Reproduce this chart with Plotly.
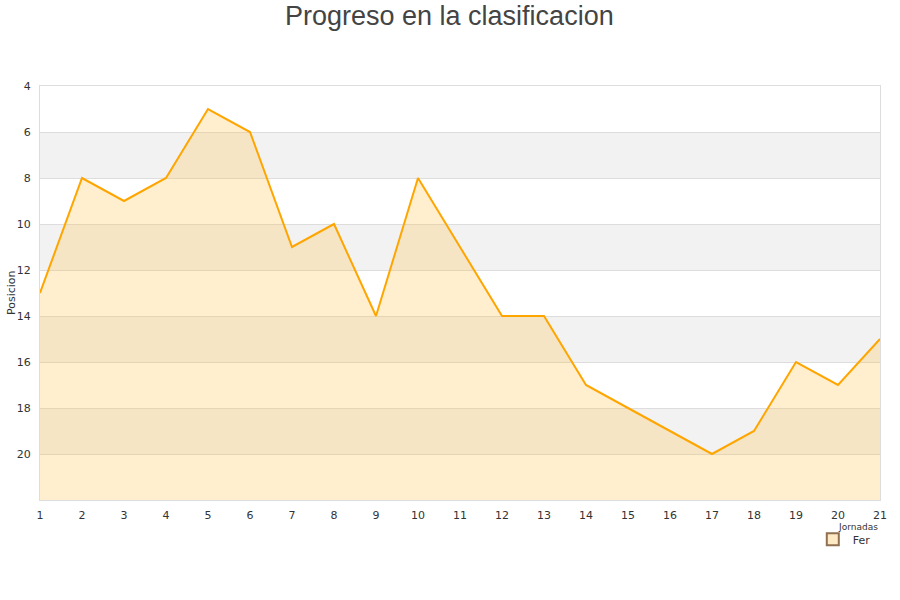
import plotly.graph_objects as go

jornadas = list(range(1, 22))
posicion = [13, 8, 9, 8, 5, 6, 11, 10, 14, 8, 11, 14, 14, 17, 18, 19, 20, 19, 16, 17, 15]
y_ticks = [4, 6, 8, 10, 12, 14, 16, 18, 20]
bands = [(6, 8), (10, 12), (14, 16), (18, 20)]
y_bottom = 22
y_top = 4
serie = "Fer"
title = "Progreso en la clasificacion"
x_title = "Jornadas"
y_title = "Posicion"

fig = go.Figure()
fig.add_trace(go.Scatter(x=jornadas, y=[y_bottom] * len(jornadas), mode="lines",
                         line=dict(width=0, color="rgba(0,0,0,0)"), showlegend=False,
                         hoverinfo="skip"))
fig.add_trace(go.Scatter(x=jornadas, y=posicion, mode="lines", fill="tonexty",
                         fillcolor="rgba(255,190,60,0.25)",
                         line=dict(color="#ffa500", width=2), showlegend=False, name=serie))
fig.add_trace(go.Scatter(x=[None], y=[None], mode="markers", name=serie,
                         marker=dict(symbol="square", size=7, color="#fde9c4",
                                     line=dict(color="#907050", width=1))))

shapes = []
for a, b in bands:
    shapes.append(dict(type="rect", xref="paper", x0=0, x1=1, yref="y", y0=a, y1=b,
                       fillcolor="#f2f2f2", line=dict(width=0), layer="below"))

fig.update_layout(
    width=900, height=600,
    paper_bgcolor="white", plot_bgcolor="white",
    margin=dict(l=40, r=20, t=86, b=100, autoexpand=False),
    font=dict(family="DejaVu Sans, sans-serif", size=11, color="#333"),
    shapes=shapes,
    showlegend=True,
    legend=dict(x=0.92, y=-0.06, xanchor="left", yanchor="top", bgcolor="rgba(0,0,0,0)",
                font=dict(size=11, color="#333"), itemsizing="constant",
                tracegroupgap=0),
    annotations=[
        dict(text=title, xref="paper", yref="paper", x=0.487, y=1.169,
             xanchor="center", yanchor="middle", showarrow=False,
             font=dict(family="Liberation Sans, Arial, sans-serif", size=27, color="#444")),
        dict(text=x_title, xref="paper", yref="paper", x=1.0, y=-0.049,
             xanchor="right", yanchor="top", showarrow=False,
             font=dict(size=9, color="#333")),
        dict(text=y_title, xref="paper", yref="paper", x=-0.0345, y=0.5,
             xanchor="center", yanchor="middle", textangle=-90, showarrow=False,
             font=dict(size=11, color="#333")),
    ],
)
fig.update_xaxes(range=[1, 21], tickmode="array", tickvals=jornadas, automargin=False,
                 showgrid=False, zeroline=False, showline=True, linecolor="#ddd",
                 mirror=True, ticks="", ticklabelstandoff=5,
                 tickfont=dict(size=11, color="#333"))
fig.update_yaxes(range=[y_bottom, y_top], tickmode="array", tickvals=y_ticks, automargin=False,
                 showgrid=True, gridcolor="#ddd", zeroline=False, showline=True,
                 linecolor="#ddd", mirror=True, ticks="", ticklabelstandoff=6,
                 tickfont=dict(size=11, color="#333"))

fig.write_html("out.html", config={"displayModeBar": False},
               post_script="document.body.style.margin='0';")
